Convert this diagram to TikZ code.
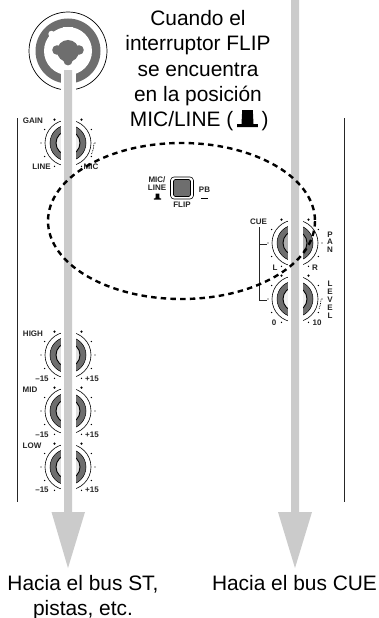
\documentclass[tikz,border=0pt]{standalone}
\usepackage{fontspec}
\setmainfont{Liberation Sans}
\definecolor{barg}{HTML}{CBCBCB}
\definecolor{ringg}{HTML}{6E6E6E}
\tikzset{
  captext/.style={font=\fontsize{20.9}{25}\selectfont, inner sep=0pt, anchor=base},
  smalllabel/.style={font=\bfseries\fontsize{8}{8}\selectfont, inner sep=0pt, anchor=center, text=black!85},
  siderule/.style={draw=black!85, line width=1pt},
  dashring/.style={draw=black, line width=2.4pt, dash pattern=on 5.5pt off 4.2pt},
  greybar/.style={fill=barg, draw=none},
}
\newcommand{\knobat}[3]{%
  \begin{scope}[shift={(#1,#2)}]
    \draw[black, line width=0.6pt] (0,0) circle (23);
    \fill[ringg, draw=black, line width=0.5pt] (0,0) circle (18);
    \fill[#3, draw=black, line width=0.9pt] (0,0) circle (12);
    \foreach \a in {210,180,150,120,60,30,0,-30}
      \fill[black] (\a:27) circle (0.7);
    \fill[black] (-60:27) circle (1.2);
    \fill[black] (240:27) circle (1.2);
  \end{scope}}
\newcommand{\tophat}[3]{%
  \fill[black] (#1-#3*10.4,#2) -- (#1+#3*10.4,#2) -- (#1+#3*10.4,#2-#3*3) -- (#1+#3*6,#2-#3*3) -- (#1+#3*5.3,#2-#3*17) -- (#1-#3*5.3,#2-#3*17) -- (#1-#3*6,#2-#3*3) -- (#1-#3*10.4,#2-#3*3) -- cycle;}
\begin{document}
\begin{tikzpicture}[x=1pt,y=-1pt]
\useasboundingbox (0,0) rectangle (379,618);
\fill[white] (0,0) rectangle (379,618);

% jack
\draw[black, line width=0.7pt] (68,51) circle (39);
\fill[ringg] (68,51) circle (32.5);
\fill[white] (68,51) circle (24);
\fill[white] (63,27) rectangle (73,33);
\fill[white] (51.5,34) circle (3.2);
\fill[ringg] (68,51) circle (11);
\fill[ringg] (57,50) circle (4.8);
\fill[ringg] (79,50) circle (4.8);
\fill[ringg] (68,61) circle (4.4);

% side rules and CUE bracket
\draw[siderule] (17.5,118) -- (17.5,502);
\draw[siderule] (344.5,118) -- (344.5,502);
\draw[siderule] (267,244) -- (259,244) (259,227) -- (259,300) -- (267,300);

% knobs
\knobat{68}{143}{black!8}
\knobat{68}{355}{black!12}
\knobat{68}{411}{black!12}
\knobat{68}{467}{black!12}
\knobat{295}{243}{black!32}
\knobat{295}{299}{black!6}
\draw[black, line width=0.7pt, dash pattern=on 0.8pt off 0.9pt] (68,143) ++(25:26) arc (25:0:26);
\draw[black, line width=0.7pt, dash pattern=on 0.8pt off 0.9pt] (295,299) ++(22:26) arc (22:0:26);

% white channels and grey arrows
\fill[white] (60.5,70) rectangle (75.5,512);
\fill[white] (287.5,214) rectangle (302.5,340);
\fill[greybar] (64,70) -- (72,70) -- (72,512) -- (85,512) -- (68,568) -- (51.5,512) -- (64,512) -- cycle;
\fill[greybar] (291,0) -- (299,0) -- (299,512) -- (312,512) -- (295,568) -- (278,512) -- (291,512) -- cycle;

% switch
\draw[black, line width=0.6pt, rounded corners=3.5pt] (170.5,177) rectangle (193.5,199);
\fill[ringg, draw=black, line width=0.7pt, rounded corners=1.5pt] (173.5,179.5) rectangle (190.5,196.5);
\node[smalllabel] (micline) at (157,185) {\begin{tabular}{@{}c@{}}MIC/\\[0.2pt]LINE\end{tabular}};
\tophat{157.5}{199.5}{0.34}
\node[smalllabel] (flip) at (182,205) {FLIP};
\node[smalllabel] (pb) at (204.5,190) {PB};
\fill[black] (201,197.5) rectangle (208,199);

% small labels
\node[smalllabel] (gain) at (33,121) {GAIN};
\node[smalllabel] (line) at (41.5,167) {LINE};
\node[smalllabel] (mic) at (91,167) {MIC};
\node[smalllabel] (high) at (33,334) {HIGH};
\node[smalllabel] (mid) at (30,390) {MID};
\node[smalllabel] (low) at (32,446) {LOW};
\foreach \y/\n in {379/a,435/b,490/c}{
  \node[smalllabel] (m\n) at (42,\y) {–15};
  \node[smalllabel] (p\n) at (92,\y) {+15};
}
\node[smalllabel] (cue) at (258.5,222) {CUE};
\node[smalllabel] (l) at (275,268) {L};
\node[smalllabel] (r) at (315,268) {R};
\node[smalllabel] (zero) at (274,323) {0};
\node[smalllabel] (ten) at (317,323) {10};
\node[smalllabel, align=center] (pan) at (330,243) {\begin{tabular}{@{}c@{}}P\\[-0.5pt]A\\[-0.5pt]N\end{tabular}};
\node[smalllabel, align=center] (level) at (330,300.5) {\begin{tabular}{@{}c@{}}L\\E\\V\\E\\L\end{tabular}};

% dashed ellipse
\draw[dashring] (181.5,221) circle [x radius=133.5, y radius=78];

% captions
\node[captext] (t1) at (198,26) {Cuando el};
\node[captext] (t2) at (198,51) {interruptor FLIP};
\node[captext] (t3) at (198,77) {se encuentra};
\node[captext] (t4) at (198,101) {en la posición};
\node[captext, anchor=base east] (t5) at (233.5,126) {MIC/LINE (};
\tophat{247.5}{127}{1}
\node[captext, anchor=base west] (t6) at (261.5,126) {)};
\node[captext] (b1) at (83,590) {Hacia el bus ST,};
\node[captext] (b2) at (83,615) {pistas, etc.};
\node[captext] (b3) at (294.5,590) {Hacia el bus CUE};
\end{tikzpicture}
\end{document}
